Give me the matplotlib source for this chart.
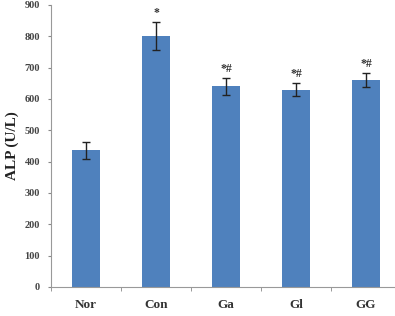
import matplotlib
matplotlib.use("Agg")
import matplotlib.pyplot as plt
import numpy as np

categories = ["Nor", "Con", "Ga", "Gl", "GG"]
values = [437, 800, 640, 630, 661]
errors = [27, 45, 27, 21, 23]
marks = ["", "*", "*#", "*#", "*#"]
yticks = [0, 100, 200, 300, 400, 500, 600, 700, 800, 900]

fig = plt.figure(figsize=(3.95, 3.16), dpi=100)
W, H = 395, 316
x0, x1 = 51, 401
y0, y1 = 287, 5
ax = fig.add_axes([x0 / W, 1 - y0 / H, (x1 - x0) / W, (y0 - y1) / H])

x = np.arange(len(categories))
ax.bar(x, values, width=0.4, color="#4F81BD", zorder=2)
ax.errorbar(x, values, yerr=errors, fmt="none", ecolor="#222222",
            elinewidth=1.0, capsize=3, capthick=1.0, zorder=3)
for xi, v, e, m in zip(x, values, errors, marks):
    if m:
        ax.text(xi, v + e + 10, m, ha="center", va="bottom",
                fontsize=8.5, fontweight="bold", family="Liberation Serif",
                color="#333333")

ax.set_xlim(-0.5, len(categories) - 0.5)
ax.set_ylim(0, 900)
ax.set_yticks(yticks)
ax.set_yticklabels([str(t) for t in yticks], family="Liberation Serif",
                   fontweight="bold", fontsize=7.5, color="#444444")
ax.set_xticks(x)
ax.set_xticklabels(categories, family="Liberation Serif",
                   fontweight="bold", fontsize=9.5, color="#333333")
ax.set_xticks(np.arange(-0.5, len(categories), 1), minor=True)
ax.tick_params(axis="x", which="major", length=0, pad=9)
ax.tick_params(axis="x", which="minor", length=3, color="#888888", direction="out")
ax.tick_params(axis="y", length=2, color="#888888", pad=6)

for s in ["top", "right"]:
    ax.spines[s].set_visible(False)
for s in ["left", "bottom"]:
    ax.spines[s].set_color("#999999")
    ax.spines[s].set_linewidth(0.8)

ax.set_ylabel("ALP (U/L)", family="Liberation Serif", fontweight="bold",
              fontsize=11, color="#222222", labelpad=4)

fig.savefig("out.png", dpi=100)
